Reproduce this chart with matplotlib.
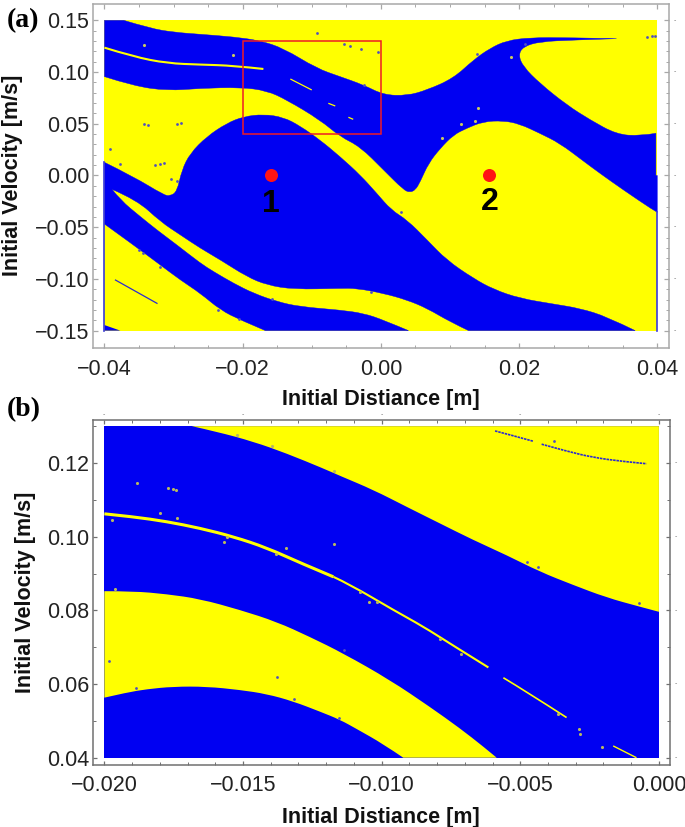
import numpy as np
import matplotlib
matplotlib.use("Agg")
import matplotlib.pyplot as plt
from matplotlib.patches import Rectangle, PathPatch
from matplotlib.path import Path

plt.rcParams['font.family'] = ['Liberation Sans', 'DejaVu Sans']

BLUE = '#0000f2'
YELLOW = '#ffff00'

# panel a, blue band at the top, walked round clockwise
a_band_x = [-0.04, -0.0372, -0.0334, -0.03, -0.0261, -0.0213, -0.0175, -0.0141, -0.0093, -0.0059, -0.0025,
            0.0004, 0.0038, 0.0067, 0.0105, 0.0134, 0.0158, 0.0182, 0.0216, 0.0269, 0.0341,
            0.0279, 0.023, 0.0206, 0.0199, 0.0206, 0.023, 0.0269, 0.0303, 0.0341, 0.0375, 0.0398, 0.0398, 0.04,
            0.04, 0.0394, 0.0351, 0.0317, 0.0293, 0.0259, 0.023, 0.0201, 0.0177, 0.0148, 0.0124, 0.0105,
            0.0086, 0.0069, 0.0057, 0.005, 0.0042, 0.0033, 0.0004, -0.003, -0.0059, -0.0088, -0.0136,
            -0.0165, -0.0203, -0.0261, -0.0309, -0.0358, -0.04]
a_band_y = [0.15, 0.15, 0.1423, 0.1385, 0.1365, 0.134, 0.1304, 0.123, 0.1036, 0.0956, 0.0875,
            0.0779, 0.0772, 0.0827, 0.094, 0.1117, 0.123, 0.1304, 0.1333, 0.1333, 0.1323,
            0.131, 0.1294, 0.1246, 0.1165, 0.1052, 0.0891, 0.0682, 0.0537, 0.0398, 0.0382, 0.0408, 0.0, 0.0,
            -0.0356, -0.0334, -0.014, 0.0021, 0.014, 0.0311, 0.0408, 0.0498, 0.053, 0.0521, 0.0456, 0.0392,
            0.0263, 0.0118, -0.006, -0.014, -0.0163, -0.014, 0.0053, 0.0279, 0.0376, 0.0537, 0.073,
            0.082, 0.0853, 0.0843, 0.082, 0.0866, 0.0956]

# panel a, dome + lower band (one connected blue region)
a_dome_x = [-0.04, -0.0358, -0.0314, -0.0305, -0.0295, -0.0288, -0.0276, -0.0252, -0.0223, -0.0199, -0.017,
            -0.0141, -0.0117, -0.0088, -0.0059, -0.003, -0.0006, 0.0015, 0.0038, 0.0067, 0.0095, 0.0134,
            0.0163, 0.0201, 0.025, 0.0288, 0.0327, 0.0368, 0.0127,
            0.01, 0.0067, 0.0038, 0.0004, -0.0035, -0.0059, -0.0126, -0.0165, -0.0194, -0.0232, -0.0261,
            -0.029, -0.0319, -0.0353, -0.0389,
            -0.0377, -0.0348, -0.0324, -0.0295, -0.0261, -0.0242, -0.0213, -0.0184, -0.015, -0.0117, -0.0059,
            -0.0025, 0.0004, 0.004, -0.0167,
            -0.0203, -0.0232, -0.0261, -0.029, -0.0319, -0.0358, -0.04]
a_dome_y = [0.0127, -0.0011, -0.0189, -0.0198, -0.0156, 0.0053, 0.0214, 0.0376, 0.0505, 0.0569, 0.0592,
            0.0563, 0.0479, 0.0343, 0.0182, 0.0005, -0.0172, -0.0334, -0.043, -0.0624, -0.0817, -0.0995,
            -0.1101, -0.1188, -0.1243, -0.1285, -0.1365, -0.15, -0.15,
            -0.1414, -0.1285, -0.1204, -0.114, -0.1091, -0.1091, -0.1101, -0.1059, -0.0978, -0.0817, -0.0704,
            -0.0575, -0.0446, -0.0237, -0.0134,
            -0.0237, -0.0398, -0.0527, -0.0672, -0.0849, -0.093, -0.1043, -0.114, -0.122, -0.1269, -0.1301,
            -0.1333, -0.1398, -0.15, -0.15,
            -0.1398, -0.1301, -0.114, -0.1011, -0.0866, -0.0672, -0.0469]

a_tips = [(0.0341, 0.1323), (-0.0389, -0.0134)]

a_corner_x = [-0.04, -0.0377, -0.04]
a_corner_y = [-0.1446, -0.15, -0.15]

# thin yellow filament inside the top band, pieces
a_thread1_x = [-0.04, -0.0358, -0.0309, -0.0261, -0.0213, -0.017]
a_thread1_y = [0.1236, 0.1149, 0.1085, 0.1072, 0.1062, 0.103]
a_thread2_x = [-0.0131, -0.01]
a_thread2_y = [0.0933, 0.0827]
a_thread3_x = [-0.0076, -0.0066]
a_thread3_y = [0.0698, 0.0672]
a_thread4_x = [-0.0047, -0.004]
a_thread4_y = [0.0563, 0.0543]

a_line_x = [-0.0384, -0.0324]
a_line_y = [-0.1011, -0.1236]

a_blue_dots_x = [-0.0343, -0.0337, -0.0295, -0.0289, -0.0392, -0.0377, -0.0327, -0.032, -0.0314, -0.0304, -0.0295,
                 -0.0093, -0.0054, -0.0044, -0.0029, -0.0004, -0.0025, 0.0139, 0.0209, 0.0029, -0.035, -0.0344,
                 -0.0319, -0.0235, -0.0206, -0.0158, -0.0014, 0.0385, 0.0392, 0.0397]
a_blue_dots_y = [0.0498, 0.0488, 0.0498, 0.0505, 0.0256, 0.0111, 0.0105, 0.0111, 0.0121, -0.0034, -0.005,
                 0.1375, 0.1275, 0.1256, 0.1227, 0.1198, 0.0875, 0.1175, 0.1269, -0.035, -0.072, -0.0753,
                 -0.0882, -0.1301, -0.1391, -0.1194, -0.1123, 0.1343, 0.1352, 0.1352]
a_yellow_dots_x = [-0.0343, -0.0214, 0.0189, 0.0141, 0.0116, 0.0136, 0.0088]
a_yellow_dots_y = [0.1259, 0.1169, 0.1149, 0.065, 0.0495, 0.0527, 0.0363]

a_points_x = [-0.0159, 0.0157]
a_points_y = [0.0, 0.0]
a_point_names = ['1', '2']

# panel b, yellow corner top right
b_top_x = [-0.01685, -0.01595, -0.01463, -0.01343, -0.0121, -0.0115, -0.0103, -0.0091, -0.0079, -0.0067,
           -0.0055, -0.0043, -0.0031, -0.0019, -0.0007, 0.0, 0.0]
b_top_y = [0.13, 0.1285, 0.1258, 0.1226, 0.1185, 0.1165, 0.1127, 0.1081, 0.1036, 0.0991,
           0.095, 0.0905, 0.0869, 0.0835, 0.081, 0.0796, 0.13]

# panel b, yellow middle band
b_mid_x = [-0.02, -0.01895, -0.01775, -0.01655, -0.0151, -0.01379, -0.01259, -0.01138, -0.0097, -0.00826, -0.00718,
           -0.00633, -0.00585, -0.00922, -0.00994, -0.0109, -0.0115, -0.01222, -0.01319, -0.01415, -0.01511,
           -0.01631, -0.01751, -0.01847, -0.01919, -0.02]
b_mid_y = [0.0852, 0.0852, 0.0844, 0.0831, 0.0801, 0.0769, 0.0728, 0.0683, 0.0611, 0.0538, 0.048,
           0.043, 0.04, 0.04, 0.0437, 0.0478, 0.0503, 0.0525, 0.0553, 0.0573, 0.0584,
           0.0593, 0.0593, 0.0586, 0.0577, 0.0563]

b_thread1_x = [-0.02, -0.01895, -0.01775, -0.01655, -0.01535, -0.01415, -0.01294, -0.01174]
b_thread1_y = [0.1062, 0.1054, 0.1041, 0.1023, 0.1, 0.097, 0.0929, 0.0891]
b_thread1b_x = [-0.01174, -0.01114, -0.00958, -0.0085, -0.00754, -0.00615]
b_thread1b_y = [0.0891, 0.087, 0.0801, 0.0756, 0.071, 0.0645]
b_thread2_x = [-0.00561, -0.00477, -0.00333]
b_thread2_y = [0.0617, 0.0579, 0.0509]
b_thread3_x = [-0.00165, -0.00081]
b_thread3_y = [0.0432, 0.04]

b_blue1_x = [-0.00591, -0.00525, -0.00453]
b_blue1_y = [0.1287, 0.1274, 0.1259]
b_blue2_x = [-0.00423, -0.00333, -0.00237, -0.00129, -0.00045]
b_blue2_y = [0.1251, 0.1232, 0.1215, 0.1204, 0.1198]

b_yellow_dots_x = [-0.01881, -0.01772, -0.01754, -0.0174, -0.018, -0.01971, -0.01739, -0.01569, -0.01559, -0.01346,
                   -0.01381, -0.01172, -0.01962, -0.01078, -0.01045, -0.01017, -0.0079, -0.00712, -0.00363,
                   -0.00287, -0.00285, -0.00207, -0.01523, -0.01397, -0.01171]
b_yellow_dots_y = [0.1146, 0.1132, 0.1129, 0.1128, 0.1063, 0.1046, 0.105, 0.0986, 0.0998, 0.0968,
                   0.0953, 0.0981, 0.0859, 0.0849, 0.0824, 0.0824, 0.0721, 0.0681, 0.0518,
                   0.0478, 0.0463, 0.0429, 0.1276, 0.1246, 0.1179]
b_blue_dots_x = [-0.01982, -0.01376, -0.01315, -0.01154, -0.01887, -0.01135, -0.00477, -0.00435, -0.00072, -0.00378]
b_blue_dots_y = [0.0663, 0.0618, 0.0559, 0.0509, 0.0588, 0.0692, 0.0932, 0.0918, 0.0819, 0.1259]

xlabel = 'Initial Distiance [m]'
ylabel = 'Initial Velocity [m/s]'


def soft_path(x, y, xedge, yedge, tips=()):
    # rounds the read-off outline with quadratic segments, edge points and tips stay sharp
    pts = list(zip(x, y))
    sharp = [p[0] in xedge or p[1] in yedge or abs(p[0]) == 0.0398 or p in tips for p in pts]
    verts = [pts[0]]
    codes = [Path.MOVETO]
    n = len(pts)
    for i in range(1, n + 1):
        p = pts[i % n]
        if sharp[i % n]:
            verts.append(p)
            codes.append(Path.LINETO)
            continue
        nxt = pts[(i + 1) % n]
        if sharp[(i + 1) % n]:
            end = nxt
        else:
            end = ((p[0] + nxt[0]) / 2, (p[1] + nxt[1]) / 2)
        verts += [p, end]
        codes += [Path.CURVE3, Path.CURVE3]
    return Path(verts, codes)


def soft_line(ax, x, y, **kw):
    pts = list(zip(x, y))
    verts = [pts[0]]
    codes = [Path.MOVETO]
    for i in range(1, len(pts) - 1):
        end = pts[i + 1] if i == len(pts) - 2 else ((pts[i][0] + pts[i + 1][0]) / 2, (pts[i][1] + pts[i + 1][1]) / 2)
        verts += [pts[i], end]
        codes += [Path.CURVE3, Path.CURVE3]
    if len(pts) == 2:
        verts.append(pts[1])
        codes.append(Path.LINETO)
    ax.add_patch(PathPatch(Path(verts, codes), fc='none', capstyle='butt', zorder=3, **kw))


def frame(ax, col, xmaj, xmin, ymaj, ymin, xfmt, yfmt, pad):
    ax.set_xticks(xmaj)
    ax.set_xticks(xmin, minor=True)
    ax.set_yticks(ymaj)
    ax.set_yticks(ymin, minor=True)
    ax.set_xticklabels([xfmt.format(v).replace('-', '\u2212') for v in xmaj])
    ax.set_yticklabels([yfmt.format(v).replace('-', '\u2212') for v in ymaj])
    ax.tick_params(which='major', direction='in', length=3.4, width=0.9, color=col,
                   top=True, right=True, labelsize=15.5, labelcolor='#222222')
    ax.tick_params(which='minor', direction='in', length=2.2, width=0.7, color=col, top=True, right=True)
    ax.tick_params(axis='x', which='major', pad=pad)
    ax.tick_params(axis='y', which='major', pad=2.5)
    for s in ax.spines.values():
        s.set_color(col)
        s.set_linewidth(1.1)
    # the little stray dashes outside the frame at the major ticks
    for v in ymaj:
        ax.text(1.0095, v, '-', transform=ax.get_yaxis_transform(), fontsize=5, color='#777777',
                ha='center', va='center')


fig = plt.figure(figsize=(6.85, 8.27), dpi=100)
W, H = 685.0, 827.0

# ---- panel a
ax1 = fig.add_axes([92.7 / W, 1 - 347.7 / H, 576.6 / W, 344.0 / H])
ax1.set_xlim(-0.0417, 0.04174)
ax1.set_ylim(-0.1665, 0.1661)
ax1.add_patch(Rectangle((-0.04, -0.15), 0.08, 0.3, fc=YELLOW, ec='none', zorder=1))
edge_a = ([-0.04, 0.04], [-0.15, 0.15])
ax1.add_patch(PathPatch(soft_path(a_band_x, a_band_y, *edge_a, a_tips), fc=BLUE, ec=BLUE, lw=0.3, zorder=2))
ax1.add_patch(PathPatch(soft_path(a_dome_x, a_dome_y, *edge_a, a_tips), fc=BLUE, ec=BLUE, lw=0.3, zorder=2))
ax1.fill(a_corner_x, a_corner_y, fc=BLUE, ec='none', zorder=2)
ax1.plot([-0.04, -0.04], [-0.15, 0.0127], color='#3a3ad8', lw=1.2, zorder=2)
ax1.plot([0.04, 0.04], [-0.15, -0.0356], color='#3a3ad8', lw=1.2, zorder=2)
soft_line(ax1, a_thread1_x, a_thread1_y, ec=YELLOW, lw=1.5)
soft_line(ax1, a_thread2_x, a_thread2_y, ec=YELLOW, lw=0.9)
soft_line(ax1, a_thread3_x, a_thread3_y, ec=YELLOW, lw=0.9)
soft_line(ax1, a_thread4_x, a_thread4_y, ec=YELLOW, lw=0.9)
ax1.plot(a_line_x, a_line_y, color='#2b2bd0', lw=0.9, zorder=3)
ax1.scatter(a_blue_dots_x, a_blue_dots_y, s=4, color='#5050c0', lw=0, zorder=3)
ax1.scatter(a_yellow_dots_x, a_yellow_dots_y, s=5, color='#c8c860', lw=0, zorder=3)
ax1.add_patch(Rectangle((-0.02, 0.04), 0.02, 0.09, fc='none', ec='#ee1c25', lw=1.1, zorder=4))
ax1.scatter(a_points_x, a_points_y, s=88, color='#ff1414', lw=0, zorder=5)
ax1.text(a_points_x[0], -0.028, a_point_names[0], fontsize=23, fontweight='bold', ha='center', va='center', zorder=5)
ax1.text(a_points_x[1], -0.0255, a_point_names[1], fontsize=23, fontweight='bold', ha='center', va='center', zorder=5)
frame(ax1, '#a8a8a8',
      [-0.04, -0.02, 0.0, 0.02, 0.04], np.arange(-8, 9) * 0.005,
      [-0.15, -0.10, -0.05, 0.0, 0.05, 0.10, 0.15], np.arange(-15, 16) * 0.01,
      '{:.2f}', '{:.2f}', 8)
ax1.set_xlabel(xlabel, fontsize=15.5, fontweight='bold', color='#111111')
ax1.xaxis.set_label_coords(0.4995, -0.120)
ax1.set_ylabel(ylabel, fontsize=15.5, fontweight='bold', color='#111111')
ax1.yaxis.set_label_coords(-0.1217, 0.5)

# ---- panel b
ax2 = fig.add_axes([92.7 / W, 1 - 765.0 / H, 577.6 / W, 345.3 / H])
ax2.set_xlim(-0.02042, 0.00041)
ax2.set_ylim(0.03802, 0.13175)
ax2.add_patch(Rectangle((-0.02, 0.04), 0.02, 0.09, fc=BLUE, ec='none', zorder=1))
edge_b = ([-0.02, 0.0], [0.04, 0.13])
ax2.add_patch(PathPatch(soft_path(b_top_x, b_top_y, *edge_b), fc=YELLOW, ec='none', zorder=2))
ax2.add_patch(PathPatch(soft_path(b_mid_x, b_mid_y, *edge_b), fc=YELLOW, ec='none', zorder=2))
soft_line(ax2, b_thread1_x, b_thread1_y, ec=YELLOW, lw=2.2)
soft_line(ax2, b_thread1b_x, b_thread1b_y, ec=YELLOW, lw=1.5)
soft_line(ax2, b_thread2_x, b_thread2_y, ec=YELLOW, lw=1.2)
soft_line(ax2, b_thread3_x, b_thread3_y, ec=YELLOW, lw=1.0)
soft_line(ax2, b_blue1_x, b_blue1_y, ec='#2a2ad0', lw=1.2, ls=(0, (1.5, 0.5)))
soft_line(ax2, b_blue2_x, b_blue2_y, ec='#2a2ad0', lw=1.2, ls=(0, (1.5, 0.5)))
ax2.scatter(b_yellow_dots_x, b_yellow_dots_y, s=5, color='#b8b860', lw=0, zorder=3)
ax2.scatter(b_blue_dots_x, b_blue_dots_y, s=4, color='#5050c0', lw=0, zorder=3)
frame(ax2, '#707070',
      [-0.02, -0.015, -0.01, -0.005, 0.0], np.arange(-20, 1) * 0.001,
      [0.04, 0.06, 0.08, 0.10, 0.12], np.arange(4, 14) * 0.01,
      '{:.3f}', '{:.2f}', 7)
ax2.tick_params(which='major', length=3.0)
ax2.set_xlabel(xlabel, fontsize=15.5, fontweight='bold', color='#111111')
ax2.xaxis.set_label_coords(0.4995, -0.1207)
ax2.set_ylabel(ylabel, fontsize=15.5, fontweight='bold', color='#111111')
ax2.yaxis.set_label_coords(-0.098, 0.5)
for v in [-0.02, -0.015, -0.01, -0.005, 0.0]:
    ax2.text(v, 1.0145, '-', transform=ax2.get_xaxis_transform(), fontsize=5, color='#777777',
             ha='center', va='center')

fig.text(7 / W, 1 - 21 / H, '(a)', family=['Liberation Serif'], fontsize=20, fontweight='bold', va='center')
fig.text(7 / W, 1 - 410 / H, '(b)', family=['Liberation Serif'], fontsize=20, fontweight='bold', va='center')

fig.savefig('out.png', dpi=100)
